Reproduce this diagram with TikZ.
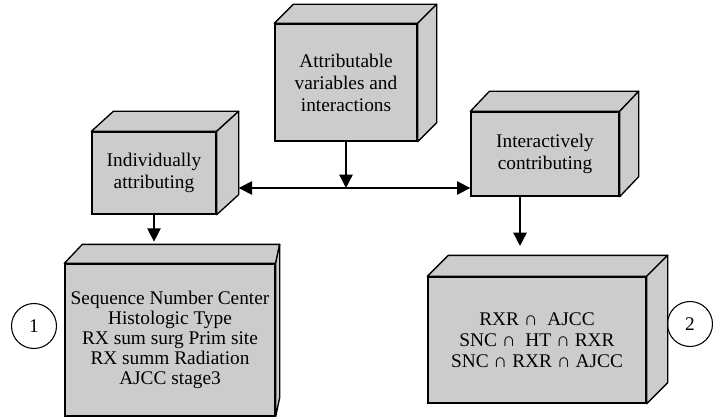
\documentclass[tikz,border=0pt]{standalone}
\usepackage{fontspec}
\setmainfont{Liberation Serif}
\usetikzlibrary{arrows.meta,calc}
\colorlet{BoxGray}{black!20}
\newlength{\PixelUnit}
\setlength{\PixelUnit}{0.75pt}
\newcommand{\DrawDepth}[3]{%
  % #1 node, #2 shift to the right, #3 shift upwards
  \filldraw[face] (#1.north west) -- ++(#2,-#3) -- ($(#1.north east)+(#2,-#3)$)
    -- (#1.north east) -- cycle;
  \filldraw[face] (#1.north east) -- ++(#2,-#3) -- ($(#1.south east)+(#2,-#3)$)
    -- (#1.south east) -- cycle;
  \coordinate (#1-top) at ($(#1.north)+(#2,-#3)$);
  \coordinate (#1-side) at ($(#1.east)+(#2,-#3)$);
}

\begin{document}
\begin{tikzpicture}[
  x=0.75pt,y=-0.75pt,
  >={Triangle[length=10pt,width=10pt]},
  box/.style={draw,fill=BoxGray,line width=1pt,align=center,inner sep=0pt,
    font=\fontsize{14.5}{16.5}\selectfont},
  face/.style={fill=BoxGray,draw=black,line width=1pt,line join=round},
  tag/.style={circle,draw,line width=0.8pt,minimum size=45\PixelUnit,inner sep=0pt,
    font=\fontsize{14.5}{16.5}\selectfont},
  link/.style={->,line width=1pt}
]
\useasboundingbox (0,0) rectangle (713,417);

% Boxes
\node[box,minimum width=142\PixelUnit,minimum height=117\PixelUnit] (T) at (346,82.5)
  {Attributable\\variables and\\interactions};
\node[box,minimum width=124\PixelUnit,minimum height=82\PixelUnit] (L) at (154,173)
  {Individually\\attributing};
\node[box,minimum width=148\PixelUnit,minimum height=84\PixelUnit] (R) at (545,154)
  {Interactively\\contributing};
\node[box,minimum width=210\PixelUnit,minimum height=152\PixelUnit,
  font=\fontsize{14.5}{15}\selectfont] (BL) at (170,340)
  {Sequence Number Center\\Histologic Type\\RX sum surg Prim site\\RX summ Radiation\\AJCC stage3};
\node[box,minimum width=218\PixelUnit,minimum height=126\PixelUnit,
  font=\fontsize{14.5}{15.75}\selectfont] (BR) at (537,340)
  {RXR ∩~ AJCC\\SNC ∩~ HT ∩ RXR\\SNC ∩ RXR ∩ AJCC};

\DrawDepth{T}{19}{19}
\DrawDepth{L}{22}{20}
\DrawDepth{R}{19}{20}
\DrawDepth{BR}{21}{21}
% left bottom box: only a thin side
\filldraw[face] (BL.north west) -- ++(18,-19) coordinate (BL-top)
  -- ($(BL.north east)+(4,-19)$) -- (BL.north east) -- cycle;
\filldraw[face] (BL.north east) -- ++(4,-19) -- ($(BL.south east)+(4,-19)$)
  -- (BL.south east) -- cycle;

% Numbers
\node[tag] (c1) at (34,326) {1};
\node[tag] (c2) at (690,324) {2};

% Arrows
\coordinate (hub) at (T.south |- 0,188);
\draw[link] (T.south) -- (hub);
\draw[<->,line width=1pt] (hub -| L-side) -- (hub -| R.west);
\draw[link,shorten >=2pt] (L.south) -- (L.south |- BL-top);
\coordinate (Rout) at ($(R.south)+(-25,0)$);
\draw[link,shorten >=7pt] (Rout) -- (Rout |- BR-top);

\end{tikzpicture}
\end{document}
